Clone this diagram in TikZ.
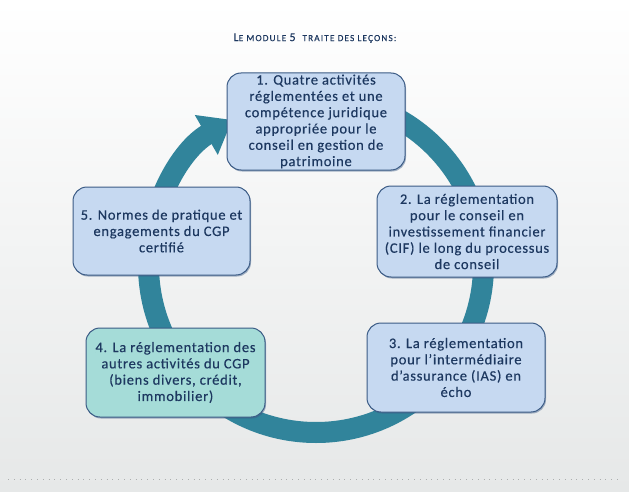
\documentclass[tikz,border=0pt]{standalone}
\usepackage{fontspec}
\setmainfont{Carlito}
\newfontfamily\etapefont{Carlito}[LetterSpace=5, FakeBold=0.4]
\newfontfamily\titrefont{Carlito}[LetterSpace=12, FakeBold=0.3]
\usetikzlibrary{arrows.meta, shadows}
\definecolor{anneau}{HTML}{31849B}
\definecolor{bleuclair}{HTML}{C6D9F1}
\definecolor{turquoise}{HTML}{A5DCD8}
\definecolor{bord}{HTML}{3B5B85}
\definecolor{texte}{HTML}{1D3860}
\definecolor{fond}{HTML}{E6E8E8}

\begin{document}
\begin{tikzpicture}[x=1pt, y=1pt,
    etape/.style={rounded corners=14pt, draw=bord, line width=1pt, fill=bleuclair, text=texte,
      align=center, inner sep=0pt, minimum width=178pt, minimum height=90pt,
      font=\etapefont\fontsize{14.5}{16.3}\selectfont,
      drop shadow={shadow xshift=1pt, shadow yshift=-1.5pt, opacity=0.45, fill=bord}},
    titre/.style={text=texte, inner sep=0pt, font=\titrefont}]
                \shade[top color=white, bottom color=fond] (0,0) rectangle (629,491);
                \draw[fond!75!black, line width=0.8pt, dash pattern=on 0.8pt off 5pt] (8,12) -- (620,12);
                \coordinate (c) at (316,226);
                \draw[anneau, line width=21pt, -{Triangle[width=44pt, length=30pt]}]
                    (c) ++(90:167.5) arc[start angle=90, end angle=-240, radius=167.5];
                \node[titre] (t) at (315,453) {{\fontsize{12}{14}\selectfont L}{\fontsize{9.3}{14}\selectfont E MODULE
                    }{\fontsize{12}{14}\selectfont 5}\ \ {\fontsize{9.3}{14}\selectfont TRAITE DES LEÇONS:}};
                \node[etape, minimum height=97pt] (m1) at (316,369.5) {1. Quatre activités\\réglementées et une\\compétence juridique\\appropriée pour le\\conseil en gestion de\\patrimoine};
                \node[etape, minimum width=180pt, minimum height=91pt] (m2) at (467,259.5) {2. La réglementation\\pour le conseil en\\investissement financier\\(CIF) le long du processus\\de conseil};
                \node[etape, minimum height=89pt] (m3) at (456,123.5) {3. La réglementation\\pour l’intermédiaire\\d’assurance (IAS) en\\écho};
                \node[etape, fill=turquoise, minimum width=179pt, minimum height=89pt] (m4) at (175.5,118.5) {4. La réglementation des\\autres activités du CGP\\(biens divers, crédit,\\immobilier)};
                \node[etape, minimum width=177pt, minimum height=88pt] (m5) at (161.5,260) {5. Normes de pratique et\\engagements du CGP\\certifié};
                \end{tikzpicture}
\end{document}
